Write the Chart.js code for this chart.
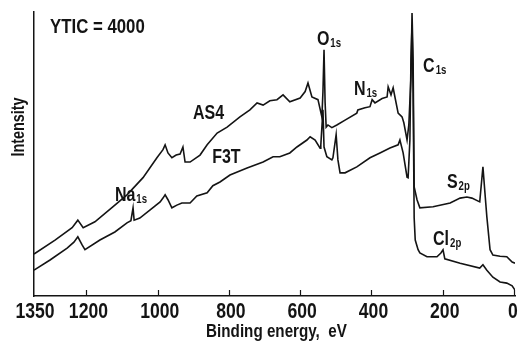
<!DOCTYPE html>
<html>
<head>
<meta charset="utf-8">
<script src="https://cdn.jsdelivr.net/npm/chart.js@4.4.0/dist/chart.umd.min.js"></script>
<style>
  html, body { margin: 0; padding: 0; background: #fff; }
</style>
</head>
<body>
<canvas id="xpsChart" width="520" height="344"></canvas>
<script>
// binding energy (eV) / intensity (counts)
const as4Energy = [1350, 1291, 1243, 1227, 1212, 1179, 1128, 1089, 1044, 1005, 988, 982, 974, 963, 951, 940, 932, 926, 912, 884,
  864, 836, 808, 772, 744, 724, 707, 688, 668, 651, 632, 603, 589, 581, 570, 553, 542, 539, 536, 533,
  530, 525, 514, 500, 477, 444, 441, 421, 407, 401, 393, 373, 359, 356, 348, 342, 337, 328, 317, 312,
  303, 298, 292, 289, 286, 283, 275, 267, 230, 182, 154, 135, 121, 99, 90, 85, 79, 70, 62, 42, 23, 8, 0];
const as4Counts = [7800, 10400, 12700, 14100, 12700, 13800, 16600, 18800, 22000, 25700, 27200, 28100, 26600, 25700, 26200, 26400, 27700, 24900, 24900, 26200,
  28100, 30300, 31400, 33300, 34600, 35900, 35500, 36300, 36500, 37400, 36100, 36800, 38000, 39600, 37000, 36500, 33300, 38000, 45800, 36000,
  31400, 31800, 31300, 31800, 32700, 34000, 34600, 35000, 35200, 36500, 35900, 36700, 37000, 38900, 37400, 38700, 37000, 34000, 33300, 32200,
  29000, 31800, 40700, 52600, 44000, 20300, 17900, 16400, 16600, 17300, 18200, 18400, 18200, 17500, 24000, 19700, 14700, 8600, 7600, 7400, 7300, 6300, 6100];

const f3tEnergy = [1350, 1305, 1257, 1238, 1227, 1215, 1207, 1165, 1123, 1089, 1078, 1072, 1069, 1053, 1024, 996, 988, 982, 974, 963,
  949, 935, 912, 893, 864, 848, 828, 800, 752, 707, 679, 660, 632, 612, 584, 575, 561, 547, 545, 539,
  536, 528, 514, 511, 502, 497, 491, 477, 444, 407, 379, 351, 328, 323, 314, 303, 300, 295, 292, 289,
  286, 283, 280, 272, 267, 247, 219, 208, 202, 197, 154, 99, 90, 79, 62, 42, 23, 8, 0];
const f3tCounts = [4800, 6700, 8900, 10000, 11000, 9500, 8600, 10400, 11900, 13600, 14000, 16400, 14100, 14500, 16000, 17500, 18200, 18800, 17900, 16400,
  16900, 17300, 17300, 18600, 19200, 20500, 21200, 22500, 23800, 24900, 25900, 25900, 26600, 27700, 29000, 29600, 29000, 27500, 28100, 34600,
  27700, 25900, 25300, 25700, 30000, 25300, 22900, 22900, 24000, 25700, 26600, 27500, 28100, 29000, 26600, 22100, 22000, 29000, 43900, 50400,
  38300, 14500, 10400, 8600, 8000, 7300, 7300, 8000, 8600, 6900, 6100, 5200, 5800, 4800, 3500, 2600, 2400, 1900, 1100];

const xTickLabels = [1350, 1200, 1000, 800, 600, 400, 200, 0];
const yTickStep = 4000;

// [main text, subscript, energy, counts] for the in-plot annotations
const peakLabels = [
  ['AS4', '', 904, 32900],
  ['F3T', '', 850, 24700],
  ['O', '1s', 556, 46700],
  ['N', '1s', 452, 37400],
  ['C', '1s', 258, 41700],
  ['S', '2p', 191, 20100],
  ['Cl', '2p', 230, 9500],
  ['Na', '1s', 1123, 17700]
];

const FONT = "'Liberation Sans', Arial, sans-serif";
const INK = '#141414';
const SQUEEZE = 0.8;   // the scan uses a condensed face

function toPoints(xs, ys) {
  return xs.map((v, i) => ({ x: v, y: ys[i] }));
}

// draw bold text squeezed horizontally, anchored at (x, y)
function narrowText(ctx, text, x, y, size, align) {
  ctx.save();
  ctx.font = 'bold ' + size + 'px ' + FONT;
  ctx.textAlign = align || 'left';
  ctx.translate(x, y);
  ctx.scale(SQUEEZE, 1);
  ctx.fillText(text, 0, 0);
  const w = ctx.measureText(text).width * SQUEEZE;
  ctx.restore();
  return w;
}

const inkPlugin = {
  id: 'ink',
  afterDraw(chart) {
    const { ctx, chartArea, scales: { x, y } } = chart;
    ctx.save();
    ctx.strokeStyle = INK;
    ctx.fillStyle = INK;
    ctx.lineWidth = 1.2;
    ctx.textBaseline = 'alphabetic';

    // short ticks pointing into the plot, labels below
    x.ticks.forEach(t => {
      const px = x.getPixelForValue(t.value);
      if (t.value !== 1350) {
        const sx = Math.round(px) - 0.5;
        ctx.beginPath();
        ctx.moveTo(sx, chartArea.bottom);
        ctx.lineTo(sx, chartArea.bottom - 6);
        ctx.stroke();
      }
      const shift = t.value === 0 ? -2 : 1;
      narrowText(ctx, String(t.value), px + shift, chartArea.bottom + 22, 22, 'center');
    });
    y.ticks.forEach(t => {
      if (t.value === 0 || t.value % yTickStep !== 0) return;
      const py = Math.round(y.getPixelForValue(t.value)) + 0.5;
      ctx.beginPath();
      ctx.moveTo(chartArea.left, py);
      ctx.lineTo(chartArea.left + 5, py);
      ctx.stroke();
    });

    narrowText(ctx, 'Binding energy,  eV', (chartArea.left + chartArea.right) / 2 + 2, chartArea.bottom + 41, 19, 'center');
    narrowText(ctx, 'YTIC = 4000', chartArea.left + 16, chartArea.top + 21, 21);

    peakLabels.forEach(([main, sub, be, counts]) => {
      const px = x.getPixelForValue(be);
      const py = y.getPixelForValue(counts);
      const w = narrowText(ctx, main, px, py, 20);
      if (sub) narrowText(ctx, sub, px + w + 1, py + 2, 12);
    });

    // y axis title, sitting above the middle as in the original
    ctx.save();
    ctx.translate(24, 127);
    ctx.rotate(-Math.PI / 2);
    narrowText(ctx, 'Intensity', 0, 0, 18, 'center');
    ctx.restore();
    ctx.restore();
  }
};

const ctx = document.getElementById('xpsChart').getContext('2d');
new Chart(ctx, {
  type: 'scatter',
  data: {
    datasets: [
      {
        label: 'AS4',
        data: toPoints(as4Energy, as4Counts),
        showLine: true,
        borderColor: INK,
        borderWidth: 1.6,
        pointRadius: 0,
        tension: 0
      },
      {
        label: 'F3T',
        data: toPoints(f3tEnergy, f3tCounts),
        showLine: true,
        borderColor: INK,
        borderWidth: 1.6,
        pointRadius: 0,
        tension: 0
      }
    ]
  },
  options: {
    responsive: false,
    animation: false,
    devicePixelRatio: 1,
    layout: { padding: { left: 34, right: 5, top: 12, bottom: 0 } },
    plugins: {
      legend: { display: false },
      tooltip: { enabled: false }
    },
    scales: {
      x: {
        type: 'linear',
        reverse: true,
        min: 0,
        max: 1350,
        afterBuildTicks: scale => {
          scale.ticks = xTickLabels.map(v => ({ value: v }));
        },
        afterFit: scale => { scale.height = 48; },
        grid: { display: false, drawTicks: false },
        border: { display: true, color: INK, width: 1.5 },
        ticks: { display: false }
      },
      y: {
        type: 'linear',
        min: 0,
        max: 52800,
        afterFit: scale => { scale.width = 0; },
        grid: { display: false, drawTicks: false },
        border: { display: true, color: INK, width: 1.5 },
        ticks: { display: false, stepSize: yTickStep }
      }
    }
  },
  plugins: [inkPlugin]
});
</script>
</body>
</html>
